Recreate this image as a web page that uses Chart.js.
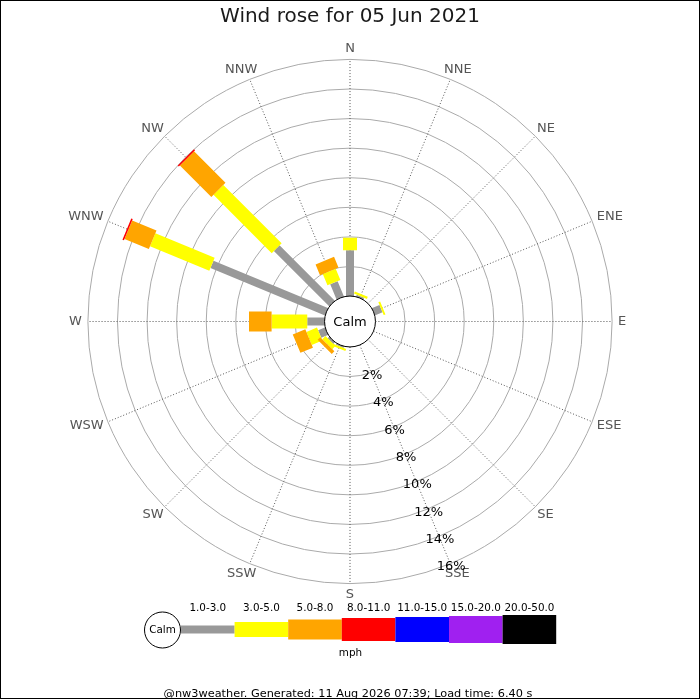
<!DOCTYPE html>
<html>
<head>
<meta charset="utf-8">
<title>Wind rose</title>
<script src="https://cdn.jsdelivr.net/npm/chart.js@4.4.1/dist/chart.umd.min.js"></script>
<style>
  html, body { margin: 0; padding: 0; background: #fff; }
  #wrap { width: 700px; height: 700px; }
</style>
</head>
<body>
<div id="wrap"><canvas id="chartRose"></canvas></div>
<script>
const directions = ['N', 'NNE', 'NE', 'ENE', 'E', 'ESE', 'SE', 'SSE', 'S', 'SSW', 'SW', 'WSW', 'W', 'WNW', 'NW', 'NNW'];
const speedBands = ['1.0-3.0', '3.0-5.0', '5.0-8.0', '8.0-11.0', '11.0-15.0', '15.0-20.0', '20.0-50.0'];
const bandColors = ['#999999', '#ffff00', '#ffa500', '#ff0000', '#0000ff', '#a020f0', '#000000'];
const bandWidths = [8, 14, 20, 23, 25, 27, 29];

// % of the day per direction, one array per speed band (mph)
const band1to3   = [3.10, 0.13, 0, 0.55, 0, 0, 0, 0, 0, 0.10, 0.15, 0.50, 1.17, 8.38, 5.29, 1.12];
const band3to5   = [0.85, 0.15, 0, 0.13, 0, 0, 0, 0, 0, 0.15, 0.30, 0.77, 2.41, 4.34, 5.57, 0.83];
const band5to8   = [0, 0, 0, 0, 0, 0, 0, 0, 0, 0, 0.25, 0.92, 1.53, 1.78, 3.01, 0.78];
const band8to11  = [0, 0, 0, 0, 0, 0, 0, 0, 0, 0, 0, 0, 0, 0.11, 0.10, 0];
const band11to15 = [0, 0, 0, 0, 0, 0, 0, 0, 0, 0, 0, 0, 0, 0, 0, 0];
const band15to20 = [0, 0, 0, 0, 0, 0, 0, 0, 0, 0, 0, 0, 0, 0, 0, 0];
const band20to50 = [0, 0, 0, 0, 0, 0, 0, 0, 0, 0, 0, 0, 0, 0, 0, 0];
const bands = [band1to3, band3to5, band5to8, band8to11, band11to15, band15to20, band20to50];

const ringTicks = [2, 4, 6, 8, 10, 12, 14, 16];
const tickLabels = ['2%', '4%', '6%', '8%', '10%', '12%', '14%', '16%'];

const calmRadius = 1.72;   // radius of the calm circle, in % units
const plotRange = 18.93;   // half width of the square plot, in % units
const fontFamily = 'DejaVu Sans';

/*
    Builds the radial segments of one speed band, stacked on the bands below it
*/
function bandSegments(bandIndex) {
    const points = [];
    directions.forEach((dir, i) => {
        const value = bands[bandIndex][i];
        if (!(value > 0)) return;
        let start = calmRadius;
        for (let k = 0; k < bandIndex; k++) start += bands[k][i];
        const end = start + value;
        const from = bandIndex === 0 ? 0 : start;
        const angle = i * Math.PI / 8;
        points.push({x: from * Math.sin(angle), y: from * Math.cos(angle)});
        points.push({x: end * Math.sin(angle), y: end * Math.cos(angle)});
        points.push({x: null, y: null});
    });
    return points;
}

const roseDatasets = speedBands.map((band, k) => ({
    label: band + ' mph',
    data: bandSegments(k),
    showLine: true,
    borderColor: bandColors[k],
    backgroundColor: bandColors[k],
    borderWidth: bandWidths[k],
    borderCapStyle: 'butt',
    pointRadius: 0,
    pointHoverRadius: 0,
    tension: 0,
    order: -k
}));

/*
    Rings, spokes, calm circle, labels and the band legend
*/
const roseDecor = {
    id: 'roseDecor',
    beforeDatasetsDraw(chart) {
        const {ctx, scales: {x, y}} = chart;
        const px = (r, a) => x.getPixelForValue(r * Math.sin(a));
        const py = (r, a) => y.getPixelForValue(r * Math.cos(a));
        const cx = x.getPixelForValue(0), cy = y.getPixelForValue(0);
        const unit = x.getPixelForValue(1) - cx;
        const outer = calmRadius + ringTicks[ringTicks.length - 1];

        ctx.save();
        ctx.strokeStyle = '#aaaaaa';
        ctx.lineWidth = 1;
        ringTicks.forEach(t => {
            ctx.beginPath();
            ctx.arc(cx, cy, (calmRadius + t) * unit, 0, 2 * Math.PI);
            ctx.stroke();
        });
        ctx.strokeStyle = '#555555';
        ctx.setLineDash([1, 2]);
        directions.forEach((dir, i) => {
            const a = i * Math.PI / 8;
            ctx.beginPath();
            ctx.moveTo(px(calmRadius, a), py(calmRadius, a));
            ctx.lineTo(px(outer, a), py(outer, a));
            ctx.stroke();
        });
        ctx.restore();
    },
    afterDatasetsDraw(chart) {
        const {ctx, scales: {x, y}} = chart;
        const px = (r, a) => x.getPixelForValue(r * Math.sin(a));
        const py = (r, a) => y.getPixelForValue(r * Math.cos(a));
        const cx = x.getPixelForValue(0), cy = y.getPixelForValue(0);
        const unit = x.getPixelForValue(1) - cx;
        const outer = calmRadius + ringTicks[ringTicks.length - 1];

        ctx.save();
        // calm circle
        ctx.beginPath();
        ctx.arc(cx, cy, calmRadius * unit, 0, 2 * Math.PI);
        ctx.fillStyle = '#ffffff';
        ctx.fill();
        ctx.strokeStyle = '#000000';
        ctx.lineWidth = 1;
        ctx.stroke();
        ctx.fillStyle = '#000000';
        ctx.font = '13px "' + fontFamily + '"';
        ctx.textAlign = 'center';
        ctx.textBaseline = 'middle';
        ctx.fillText('Calm', cx, cy + 1);

        // direction labels, box pushed outwards from a point just beyond the outer ring
        ctx.fillStyle = '#555555';
        const labelR = outer + 6 / unit;
        directions.forEach((dir, i) => {
            const a = i * Math.PI / 8;
            const w = ctx.measureText(dir).width;
            const lx = px(labelR, a) + (w / 2) * Math.sin(a);
            const ly = py(labelR, a) - 5 * Math.cos(a);
            ctx.fillText(dir, lx, ly);
        });

        // percentage labels along SSE
        ctx.fillStyle = '#000000';
        const tickAngle = 7 * Math.PI / 8;
        ringTicks.forEach((t, i) => {
            const r = calmRadius + t + 2.5 / unit;
            ctx.fillText(tickLabels[i], px(r, tickAngle), py(r, tickAngle) + 1);
        });

        // band legend
        const legX = 181, legW = 53.6, legY = 629.5;
        ctx.beginPath();
        ctx.arc(162.5, 630, 18, 0, 2 * Math.PI);
        ctx.fillStyle = '#ffffff';
        ctx.fill();
        ctx.strokeStyle = '#000000';
        ctx.stroke();
        ctx.fillStyle = '#000000';
        ctx.font = '10.4px "' + fontFamily + '"';
        ctx.fillText('Calm', 162.5, 630.5);
        speedBands.forEach((band, k) => {
            const h = k === 1 ? 15 : bandWidths[k];
            ctx.fillStyle = bandColors[k];
            ctx.fillRect(legX + k * legW, legY - h / 2, legW, h);
            ctx.fillStyle = '#000000';
            ctx.textBaseline = 'alphabetic';
            ctx.fillText(band, legX + (k + 0.5) * legW, 610.5);
        });
        ctx.textBaseline = 'middle';
        ctx.fillText('mph', 350.5, 653.5);

        // footer
        ctx.font = '11.3px "' + fontFamily + '"';
        ctx.textBaseline = 'alphabetic';
        ctx.fillText('@nw3weather. Generated: 11 Aug 2026 07:39; Load time: 6.40 s', 348, 697);

        // frame
        ctx.strokeStyle = '#000000';
        ctx.strokeRect(0.5, 0.5, 699, 698);
        ctx.restore();
    }
};

new Chart(document.getElementById('chartRose'), {
    type: 'scatter',
    data: { datasets: roseDatasets },
    options: {
        responsive: true,
        maintainAspectRatio: false,
        animation: false,
        events: [],
        layout: { padding: { top: 0, left: 70, right: 70, bottom: 98.5 } },
        scales: {
            x: { type: 'linear', display: false, min: -plotRange, max: plotRange },
            y: { type: 'linear', display: false, min: -plotRange, max: plotRange }
        },
        plugins: {
            legend: { display: false },
            tooltip: { enabled: false },
            title: {
                display: true,
                text: 'Wind rose for 05 Jun 2021',
                color: '#1a1a1a',
                font: { family: fontFamily, size: 20, weight: 'normal' },
                padding: { top: 5, bottom: 12.5 }
            }
        }
    },
    plugins: [roseDecor]
});
</script>
</body>
</html>
